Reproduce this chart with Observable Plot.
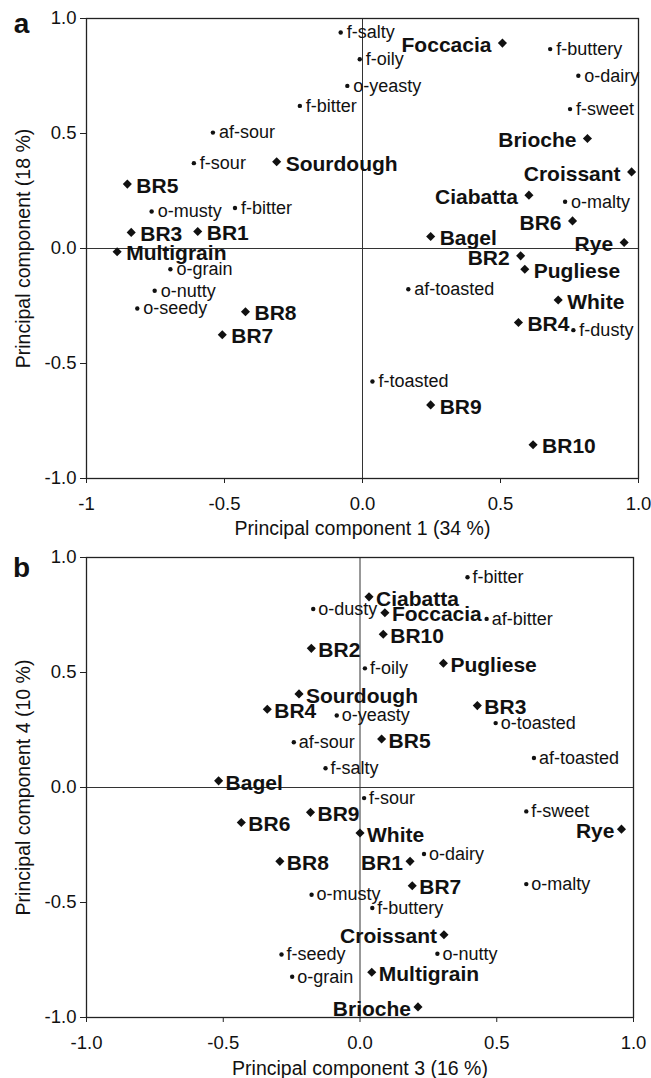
<!DOCTYPE html>
<html><head><meta charset="utf-8">
<script src="https://cdn.jsdelivr.net/npm/d3@7"></script>
<script src="https://cdn.jsdelivr.net/npm/@observablehq/plot@0.6"></script>
<style>
body{margin:0;background:#fff}
#chart svg{display:block}
</style></head><body><div id="chart"></div>
<script>
// ---------- Panel a: PC1 vs PC2 ----------
const breadsA = ["Foccacia","Brioche","Croissant","Ciabatta","BR6","Bagel","Rye","BR2","Pugliese","White","BR4","BR9","BR10","Sourdough","BR5","BR3","BR1","Multigrain","BR8","BR7"];
const breadsA_pc1 = [0.507,0.815,0.975,0.603,0.761,0.247,0.948,0.573,0.588,0.709,0.565,0.247,0.618,-0.311,-0.852,-0.838,-0.597,-0.889,-0.424,-0.508];
const breadsA_pc2 = [0.893,0.478,0.333,0.232,0.120,0.052,0.026,-0.032,-0.090,-0.224,-0.322,-0.680,-0.853,0.377,0.280,0.070,0.074,-0.014,-0.275,-0.375];
const attrsA = ["f-salty","f-oily","o-yeasty","f-bitter","af-sour","f-sour","o-musty","f-bitter","o-grain","o-nutty","o-seedy","f-buttery","o-dairy","f-sweet","o-malty","af-toasted","f-dusty","f-toasted"];
const attrsA_pc1 = [-0.079,-0.010,-0.055,-0.227,-0.542,-0.611,-0.764,-0.462,-0.696,-0.753,-0.816,0.680,0.782,0.752,0.734,0.166,0.764,0.036];
const attrsA_pc2 = [0.939,0.823,0.707,0.620,0.504,0.371,0.161,0.176,-0.090,-0.184,-0.261,0.867,0.751,0.606,0.203,-0.177,-0.355,-0.578];
const leftLabelsA = ["Foccacia","Brioche","Croissant","Ciabatta","BR6","Rye","BR2"];

// ---------- Panel b: PC3 vs PC4 ----------
const breadsB = ["BR2","Sourdough","BR4","Bagel","Ciabatta","Foccacia","BR10","Pugliese","BR3","BR5","BR9","BR6","BR8","Rye","White","BR1","BR7","Croissant","Multigrain","Brioche"];
const breadsB_pc3 = [-0.178,-0.223,-0.339,-0.517,0.033,0.091,0.085,0.305,0.429,0.079,-0.181,-0.434,-0.293,0.956,0.000,0.183,0.191,0.307,0.043,0.212];
const breadsB_pc4 = [0.605,0.407,0.340,0.029,0.829,0.760,0.666,0.540,0.356,0.211,-0.108,-0.152,-0.321,-0.181,-0.198,-0.321,-0.427,-0.640,-0.803,-0.954];
const attrsB = ["o-dusty","af-sour","f-salty","f-bitter","af-bitter","f-oily","o-yeasty","o-toasted","af-toasted","f-sour","o-musty","f-seedy","o-grain","f-sweet","o-dairy","o-malty","f-buttery","o-nutty"];
const attrsB_pc3 = [-0.171,-0.242,-0.126,0.393,0.463,0.018,-0.085,0.496,0.636,0.015,-0.177,-0.287,-0.248,0.608,0.234,0.608,0.045,0.283];
const attrsB_pc4 = [0.776,0.197,0.084,0.914,0.733,0.518,0.313,0.280,0.128,-0.046,-0.466,-0.726,-0.823,-0.104,-0.289,-0.420,-0.524,-0.723];
const leftLabelsB = ["Rye","BR1","Croissant","Brioche"];

// ---------- Axes ----------
const tickValues = [-1, -0.5, 0, 0.5, 1];
const xTickLabelsA = ["-1","-0.5","0.0","0.5","1.0"];
const xTickLabelsB = ["-1.0","-0.5","0.0","0.5","1.0"];
const yTickLabels = ["-1.0","-0.5","0.0","0.5","1.0"];

const FONT = "'Liberation Sans', Arial, Helvetica, sans-serif";
const INK = "#111";

function panel(cfg) {
  const breads = cfg.breads.map((name, i) => ({name, x: cfg.bx[i], y: cfg.by[i]}));
  const attrs = cfg.attrs.map((name, i) => ({name, x: cfg.ax[i], y: cfg.ay[i]}));
  const left = new Set(cfg.leftLabels);
  return Plot.plot({
    width: 651,
    height: cfg.height,
    marginTop: cfg.marginTop,
    marginBottom: cfg.marginBottom,
    marginLeft: 86,
    marginRight: cfg.marginRight,
    x: {domain: [-1, 1]},
    y: {domain: [-1, 1]},
    style: {fontFamily: FONT, fontSize: "18.5px", color: INK, background: "#fff"},
    marks: [
      Plot.ruleX([0], {stroke: "#333", strokeWidth: 1}),
      Plot.ruleY([0], {stroke: "#333", strokeWidth: 1}),
      Plot.frame({stroke: "#222", strokeWidth: 1.3}),
      Plot.axisX({ticks: tickValues, tickFormat: d => cfg.xTickLabels[tickValues.indexOf(d)], tickSize: 5, tickPadding: 13, label: null, stroke: "#222"}),
      Plot.axisY({ticks: tickValues, tickFormat: d => yTickLabels[tickValues.indexOf(d)], tickSize: 6, tickPadding: 4, label: null, stroke: "#222"}),
      Plot.dot(attrs, {x: "x", y: "y", r: 2.2, fill: INK, symbol: "circle"}),
      Plot.text(attrs, {x: "x", y: "y", text: "name", textAnchor: "start", dx: cfg.attrDx, fontSize: 18, fill: INK}),
      Plot.dot(breads, {x: "x", y: "y", r: 4.1, fill: INK, symbol: "diamond2"}),
      Plot.text(breads.filter(d => !left.has(d.name)), {x: "x", y: "y", text: "name", textAnchor: "start", dx: cfg.breadDx, dy: 2, fontSize: 21, fontWeight: "bold", fill: INK}),
      Plot.text(breads.filter(d => left.has(d.name)), {x: "x", y: "y", text: "name", textAnchor: "end", dx: -cfg.breadDxLeft, dy: 2, fontSize: 21, fontWeight: "bold", fill: INK}),
      Plot.text([cfg.xTitle], {frameAnchor: "bottom", textAnchor: "middle", lineAnchor: "middle", dy: cfg.xTitleDy, fontSize: 19.5, fill: INK}),
      Plot.text([cfg.yTitle], {frameAnchor: "left", textAnchor: "middle", lineAnchor: "middle", dx: -63, rotate: -90, fontSize: 19.5, fill: INK}),
      Plot.text([cfg.letter], {frameAnchor: "top-left", textAnchor: "middle", lineAnchor: "middle", dx: -65, dy: cfg.letterDy, fontSize: 28, fontWeight: "bold", fill: INK})
    ]
  });
}

const chart = document.getElementById("chart");
chart.append(panel({
  breads: breadsA, bx: breadsA_pc1, by: breadsA_pc2,
  attrs: attrsA, ax: attrsA_pc1, ay: attrsA_pc2,
  leftLabels: leftLabelsA,
  height: 540, marginTop: 18, marginBottom: 62, marginRight: 13,
  xTickLabels: xTickLabelsA,
  attrDx: 6, breadDx: 9, breadDxLeft: 11,
  xTitle: "Principal component 1 (34 %)", xTitleDy: 50,
  yTitle: "Principal component (18 %)",
  letter: "a", letterDy: 6
}));
chart.append(panel({
  breads: breadsB, bx: breadsB_pc3, by: breadsB_pc4,
  attrs: attrsB, ax: attrsB_pc3, ay: attrsB_pc4,
  leftLabels: leftLabelsB,
  height: 538, marginTop: 17, marginBottom: 61, marginRight: 18,
  xTickLabels: xTickLabelsB,
  attrDx: 5, breadDx: 7, breadDxLeft: 7,
  xTitle: "Principal component 3 (16 %)", xTitleDy: 51,
  yTitle: "Principal component 4 (10 %)",
  letter: "b", letterDy: 11
}));
</script>
</body></html>
